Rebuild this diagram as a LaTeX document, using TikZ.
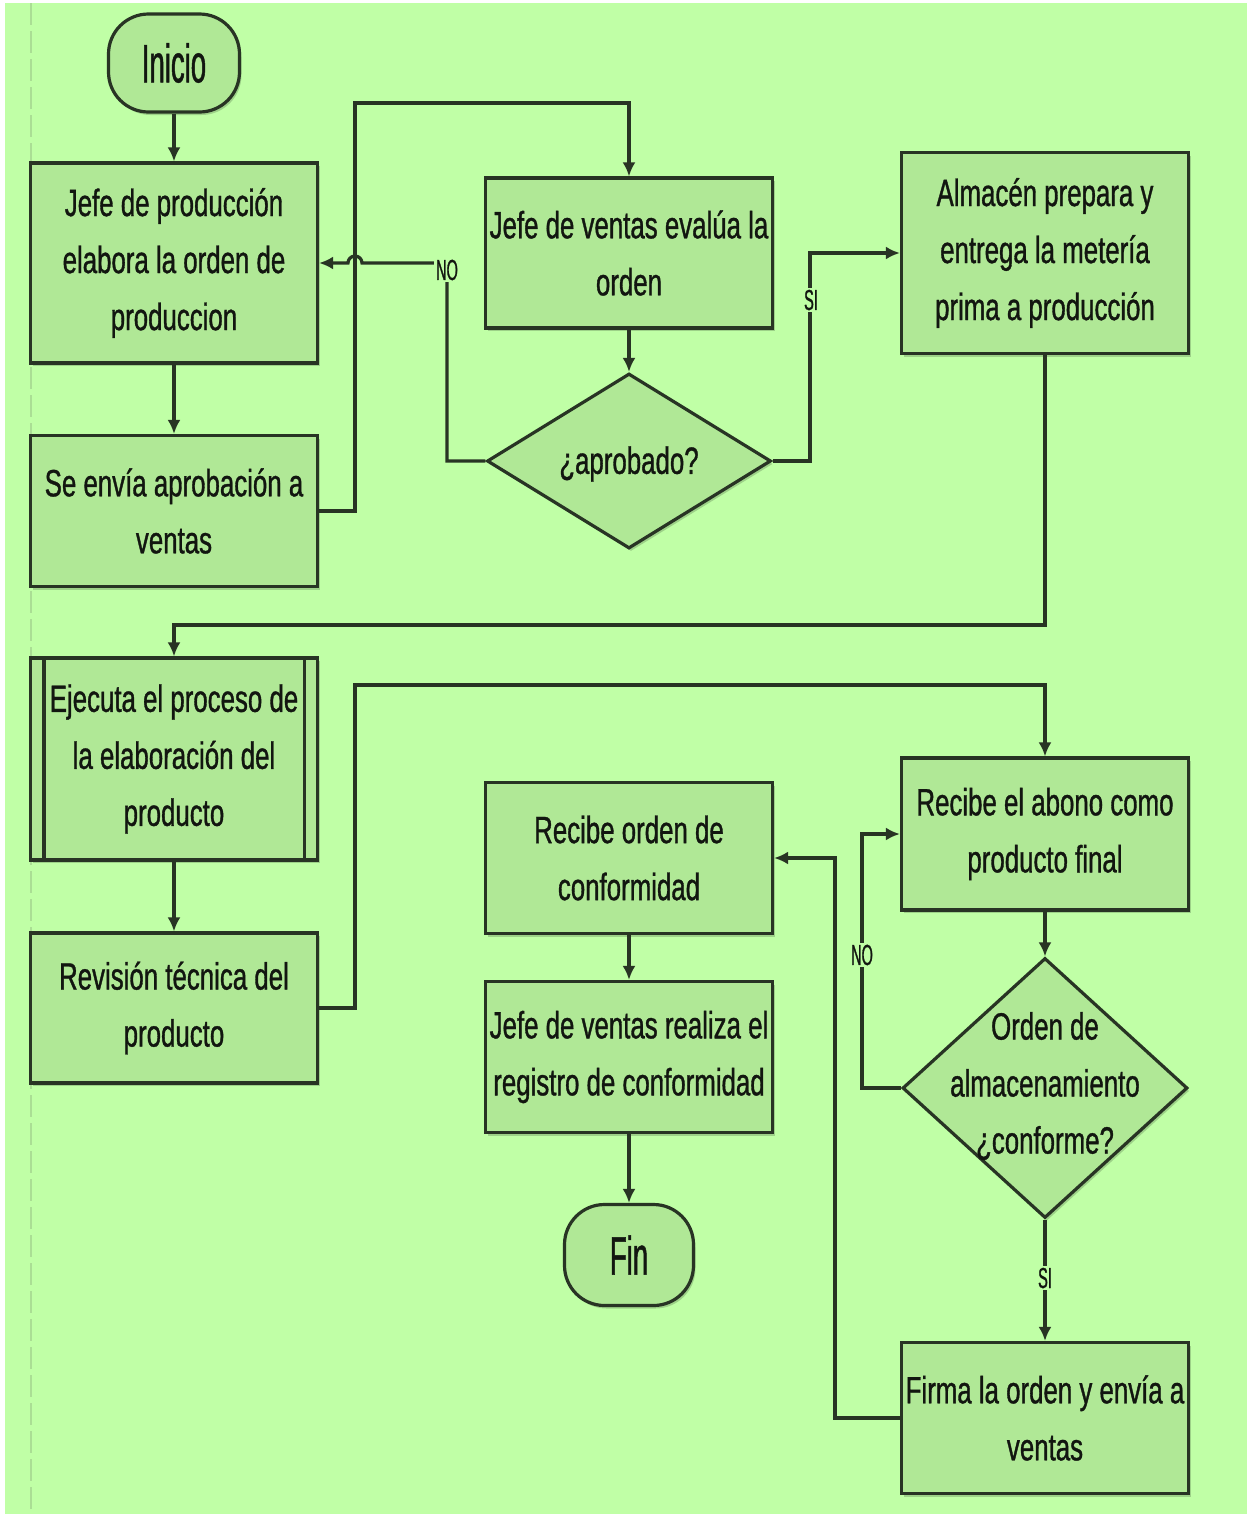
\documentclass[tikz,border=0pt]{standalone}
\usepackage{fontspec}
\setmainfont{Liberation Sans}
\newfontfamily\bodyfont{Liberation Sans}[FakeStretch=0.68,FakeBold=0.9]
\newfontfamily\termfont{Liberation Sans}[FakeStretch=0.51,FakeBold=0.9]
\newfontfamily\lblfont{Liberation Sans}[FakeStretch=0.5,FakeBold=0.9]
\usetikzlibrary{shapes.geometric,arrows.meta,shadows}
\definecolor{bg}{RGB}{192,255,166}
\definecolor{nodefill}{RGB}{176,232,150}
\definecolor{edgecol}{RGB}{40,52,36}
\definecolor{guide}{RGB}{170,222,148}
\definecolor{txt}{RGB}{18,22,16}
\begin{document}
\begin{tikzpicture}[x=1pt,y=-1pt,
  shade1/.style={drop shadow={shadow xshift=2pt,shadow yshift=-3pt,fill=black,opacity=0.18}},
  box/.style={draw=edgecol,fill=nodefill,line width=3.2pt,minimum width=287pt,minimum height=151pt,
    align=center,inner sep=0pt,text=txt,font=\bodyfont\fontsize{38}{57}\selectfont,shade1},
  term/.style={box,rounded corners=40pt,minimum width=131pt,minimum height=98pt,
    font=\termfont\fontsize{54}{60}\selectfont},
  dia/.style={shape=diamond,draw=edgecol,fill=nodefill,line width=3.2pt,inner sep=0pt,shade1},
  dtext/.style={align=center,text=txt,inner sep=0pt,font=\bodyfont\fontsize{38}{57}\selectfont},
  conn/.style={draw=edgecol,line width=3.2pt,-{Latex[length=14pt,width=13pt]}},
  lbl/.style={fill=bg,inner sep=2pt,text=txt,font=\lblfont\fontsize{29}{30}\selectfont}]
\useasboundingbox (0,0) rectangle (1247,1516);
\fill[white] (0,0) rectangle (1247,1516);
\fill[bg] (5,3) rectangle (1247,1514);
\draw[guide,line width=2pt,dash pattern=on 22pt off 6pt] (31,3) -- (31,1514);

% nodes
\node[term] (inicio) at (174,63) {Inicio};
\node[box,minimum height=200pt] (A) at (174,263) {Jefe de producción\\elabora la orden de\\produccion};
\node[box] (B) at (174,511) {Se envía aprobación a\\ventas};
\node[box,minimum height=150pt] (C) at (629,253) {Jefe de ventas evalúa la\\orden};
\node[dia,minimum width=284pt,minimum height=175pt] (D1) at (629,461) {};
\node[dtext] (D1t) at (629,464) {¿aprobado?};
\node[box,minimum height=201pt] (E) at (1045,253) {Almacén prepara y\\entrega la metería\\prima a producción};
\node[box,minimum height=202pt] (F) at (174,759) {Ejecuta el proceso de\\la elaboración del\\producto};
\draw[edgecol,line width=3.2pt] ([xshift=15pt]F.north west) -- ([xshift=15pt]F.south west)
  ([xshift=-15pt]F.north east) -- ([xshift=-15pt]F.south east);
\node[box,minimum height=150pt] (G) at (174,1008) {Revisión técnica del\\producto};
\node[box] (H) at (629,858) {Recibe orden de\\conformidad};
\node[box] (I) at (629,1057) {Jefe de ventas realiza el\\registro de conformidad};
\node[term,minimum width=129pt,minimum height=101pt] (fin) at (629,1255) {Fin};
\node[box,minimum height=152pt] (J) at (1045,834) {Recibe el abono como\\producto final};
\node[dia,minimum width=285pt,minimum height=260pt] (D2) at (1045,1088) {};
\node[dtext] (D2t) at (1045,1086) {Orden de\\almacenamiento\\¿conforme?};
\node[box] (K) at (1045,1418) {Firma la orden y envía a\\ventas};

% connectors
\draw[conn] (inicio) -- (A);
\draw[conn] (A) -- (B);
\draw[conn] (B.east) -| (355,103) -| (C.north);
\draw[conn] (C) -- (D1);
\draw[conn] (D1.west) -| (447,263) -- (362,263) arc[start angle=0,end angle=180,radius=7pt] -- (A.east);
\draw[conn] (D1.east) -| (810,253) -- (E.west);
\draw[conn] (E.south) |- (174,625) -- (F.north);
\draw[conn] (F) -- (G);
\draw[conn] (G.east) -| (355,685) -| (J.north);
\draw[conn] (J) -- (D2);
\draw[conn] (D2.west) -| (862,834) -- (J.west);
\draw[conn] (D2.south) -- (K.north);
\draw[conn] (K.west) -| (835,858) -- (H.east);
\draw[conn] (H) -- (I);
\draw[conn] (I) -- (fin);

% labels
\node[lbl] (no1) at (447,270) {NO};
\node[lbl] (si1) at (811,300) {SI};
\node[lbl] (no2) at (862,955) {NO};
\node[lbl] (si2) at (1045,1278) {SI};
\end{tikzpicture}
\end{document}
